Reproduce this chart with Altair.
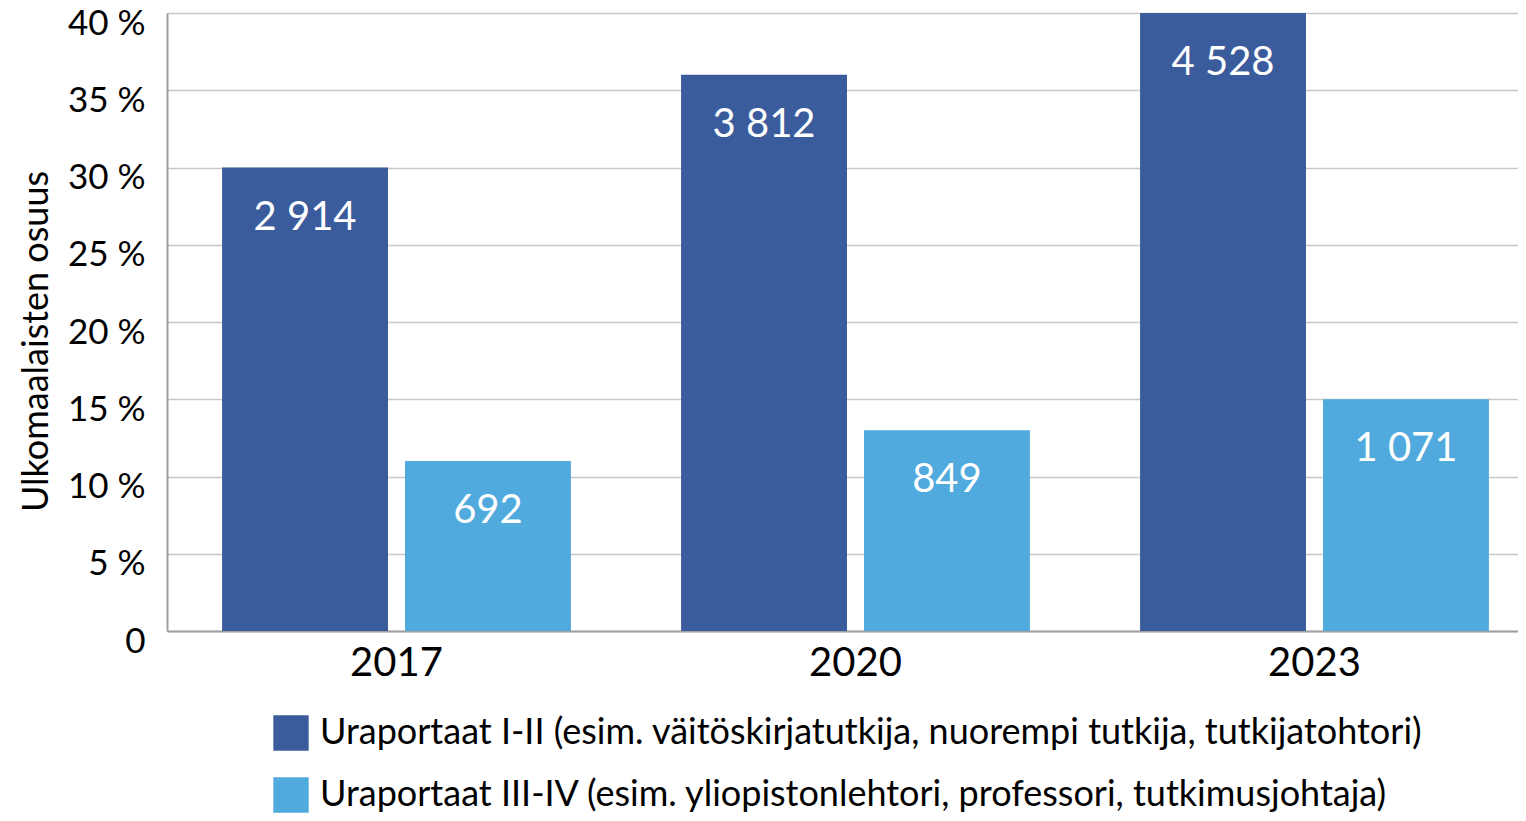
import altair as alt
import pandas as pd

years = ["2017", "2020", "2023"]
groups = [
    "Uraportaat I-II (esim. väitöskirjatutkija, nuorempi tutkija, tutkijatohtori)",
    "Uraportaat III-IV (esim. yliopistonlehtori, professori, tutkimusjohtaja)",
]
share_1_2 = [30, 36, 40]
share_3_4 = [11, 13, 15]
count_1_2 = [2914, 3812, 4528]
count_3_4 = [692, 849, 1071]
colors = ["#3b5c9c", "#50aadd"]

rows = []
for i, y in enumerate(years):
    rows.append({"year": y, "group": groups[0], "share": share_1_2[i],
                 "label": f"{count_1_2[i]:,}".replace(",", " ")})
    rows.append({"year": y, "group": groups[1], "share": share_3_4[i],
                 "label": f"{count_3_4[i]:,}".replace(",", " ")})
df = pd.DataFrame(rows)

FONT = "Lato"

x_enc = alt.X("year:N", title=None,
              scale=alt.Scale(paddingInner=0.24, paddingOuter=0.12, range=[0, 1377]),
              axis=alt.Axis(labelAngle=0, labelFontSize=40, labelColor="#000000",
                            labelFont=FONT, ticks=False, domainColor="#a0a0a0",
                            domainWidth=2, labelPadding=12))
xo_enc = alt.XOffset("group:N", sort=groups,
                     scale=alt.Scale(paddingInner=0.093, paddingOuter=0))
y_enc = alt.Y("share:Q", title="Ulkomaalaisten osuus",
              scale=alt.Scale(domain=[0, 40], nice=False),
              axis=alt.Axis(values=[0, 5, 10, 15, 20, 25, 30, 35, 40],
                            labelExpr="datum.value == 0 ? '0' : datum.value + ' %'",
                            labelFontSize=35, labelFont=FONT, labelColor="#000000",
                            labelOffset=10, labelPadding=22, ticks=False,
                            domainColor="#a0a0a0", domainWidth=2,
                            gridColor="#c8c8c8", gridWidth=1.5,
                            titleFontSize=36, titleFont=FONT, titleFontWeight="normal",
                            titleColor="#000000", titlePadding=12, titleY=328))

bars = alt.Chart(df).mark_bar().encode(
    x=x_enc,
    xOffset=xo_enc,
    y=y_enc,
    color=alt.Color("group:N", sort=groups,
                    scale=alt.Scale(domain=groups, range=colors),
                    legend=alt.Legend(title=None, orient="none", legendX=106, legendY=702,
                                      direction="vertical", symbolType="square",
                                      symbolSize=1250, symbolStrokeWidth=0,
                                      labelFontSize=36, labelFont=FONT,
                                      labelColor="#000000", labelLimit=0,
                                      rowPadding=26, labelOffset=11)),
)

text = alt.Chart(df).mark_text(color="white", fontSize=40, font=FONT,
                               baseline="middle", dy=50).encode(
    x=alt.X("year:N"),
    xOffset=alt.XOffset("group:N", sort=groups),
    y=alt.Y("share:Q"),
    text="label:N",
)

chart = (bars + text).properties(
    width=1351, height=618,
    autosize=alt.AutoSizeParams(type="none"),
    padding={"left": 159, "top": 5, "right": 0, "bottom": 190},
).configure_view(stroke=None).configure_axisX(grid=False)

chart.save("out.html", embed_options={"renderer": "svg", "actions": False})
